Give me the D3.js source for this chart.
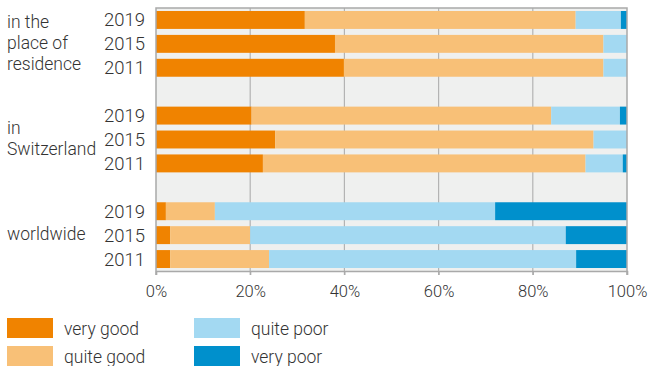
<!DOCTYPE html>
<html>
<head>
<meta charset="utf-8">
<script src="https://cdn.jsdelivr.net/npm/d3@7"></script>
<style>
  body { margin: 0; background: white; }
  text { font-family: Roboto, "Noto Sans", sans-serif; font-weight: 300; fill: #333; }
</style>
</head>
<body>
<script>
const groups = [
    { name: ["in the", "place of", "residence"], key: "res" },
    { name: ["in", "Switzerland"], key: "ch" },
    { name: ["worldwide"], key: "world" }
];
const years = ["2019", "2015", "2011"];
const categories = ["very good", "quite good", "quite poor", "very poor"];
const colors = ["#f08300", "#f8c077", "#a3d9f2", "#0090cc"];

// shares in % per year (2019, 2015, 2011): very good, quite good, quite poor, very poor
const residence = [[31.6, 57.5, 9.6, 1.3], [38.0, 57.0, 5.0, 0], [39.9, 55.1, 5.0, 0]];
const switzerland = [[20.3, 63.6, 14.6, 1.5], [25.3, 67.6, 7.1, 0], [22.7, 68.5, 7.9, 0.9]];
const worldwide = [[2.1, 10.4, 59.5, 28.0], [3.0, 17.0, 67.0, 13.0], [3.0, 21.0, 65.2, 10.8]];
const xTicks = [0, 20, 40, 60, 80, 100];

const seriesByGroup = { res: residence, ch: switzerland, world: worldwide };

const wSvg = 650;
const hSvg = 366;
const plotLeft = 156;
const plotRight = 627;
const plotTop = 8;
const plotBottom = 271;

// row slots: 3 years per group, one empty slot between groups
let rowKeys = [];
groups.forEach((g, gi) => {
    if (gi > 0) rowKeys.push("gap" + gi);
    years.forEach(y => rowKeys.push(g.key + "_" + y));
});

let rows = [];
groups.forEach(g => {
    years.forEach((y, yi) => {
        let vals = seriesByGroup[g.key][yi];
        let x0 = 0;
        vals.forEach((v, ci) => {
            rows.push({ key: g.key + "_" + y, year: y, cat: ci, x0: x0, x1: x0 + v });
            x0 += v;
        });
    });
});

let xScale = d3.scaleLinear([0, 100], [plotLeft, plotRight]);
let yScale = d3.scaleBand(rowKeys, [plotTop, plotBottom])
    .paddingInner(0.25)
    .paddingOuter(0.125);

let svg = d3.select("body")
    .append("svg")
    .attr("width", wSvg)
    .attr("height", hSvg);

svg.append("rect")
    .attr("x", plotLeft)
    .attr("y", plotTop)
    .attr("width", plotRight - plotLeft)
    .attr("height", plotBottom - plotTop)
    .attr("fill", "#eff0ef");

// grid lines
svg.append("g")
    .selectAll("line")
    .data(xTicks.slice(1, -1))
    .enter()
    .append("line")
    .attr("x1", d => xScale(d))
    .attr("x2", d => xScale(d))
    .attr("y1", plotTop)
    .attr("y2", plotBottom + 4)
    .attr("stroke", "#b3b3b3")
    .attr("stroke-width", 1.2);

svg.append("g")
    .selectAll("rect")
    .data(rows)
    .enter()
    .append("rect")
    .attr("x", d => xScale(d.x0))
    .attr("width", d => xScale(d.x1) - xScale(d.x0))
    .attr("y", d => yScale(d.key))
    .attr("height", yScale.bandwidth())
    .attr("fill", d => colors[d.cat]);

// frame
svg.append("path")
    .attr("d", `M${plotLeft},${plotBottom + 4}V${plotTop}H${plotRight}V${plotBottom + 4}`)
    .attr("fill", "none")
    .attr("stroke", "#a9a9a9")
    .attr("stroke-width", 1.5);

let xAxis = d3.axisBottom(xScale)
    .tickValues(xTicks)
    .tickSize(4)
    .tickFormat(d => d + "%");
let axisG = svg.append("g")
    .attr("transform", `translate(0, ${plotBottom})`)
    .call(xAxis)
    .attr("font-family", null);
axisG.select(".domain").attr("stroke", "#a9a9a9").attr("stroke-width", 1.5);
axisG.selectAll(".tick line").attr("stroke", "#a9a9a9").attr("stroke-width", 1.2);
axisG.selectAll(".tick text")
    .attr("y", 26)
    .attr("dy", 0)
    .attr("font-size", 16.5)
    .attr("fill", "#333");

// year labels
svg.append("g")
    .selectAll("text")
    .data(rows.filter(d => d.cat === 0))
    .enter()
    .append("text")
    .attr("x", 145)
    .attr("y", d => yScale(d.key) + yScale.bandwidth() / 2 + 6.5)
    .attr("text-anchor", "end")
    .attr("font-size", 18.5)
    .text(d => d.year);

// group labels
const lineH = 21;
groups.forEach(g => {
    let yTop = yScale(g.key + "_" + years[0]);
    let yBot = yScale(g.key + "_" + years[2]) + yScale.bandwidth();
    let mid = (yTop + yBot) / 2;
    let n = g.name.length;
    let t = svg.append("text")
        .attr("x", 7)
        .attr("font-size", 17.5);
    g.name.forEach((line, i) => {
        t.append("tspan")
            .attr("x", 7)
            .attr("y", mid + (i - (n - 1) / 2) * lineH + 5)
            .text(line);
    });
});

// legend
let legend = svg.append("g");
categories.forEach((c, i) => {
    let col = Math.floor(i / 2);
    let row = i % 2;
    let lx = 7 + col * 187;
    let ly = 318 + row * 28;
    legend.append("rect")
        .attr("x", lx)
        .attr("y", ly)
        .attr("width", 46)
        .attr("height", 20)
        .attr("fill", colors[i]);
    legend.append("text")
        .attr("x", lx + 57)
        .attr("y", ly + 17)
        .attr("font-size", 17.5)
        .text(c);
});
</script>
</body>
</html>
